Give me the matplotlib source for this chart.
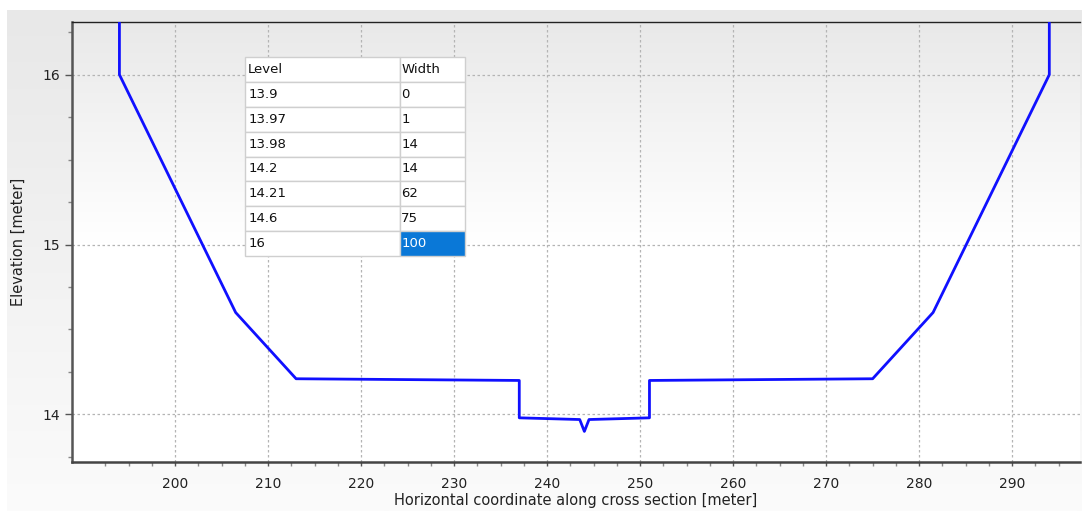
import numpy as np
import matplotlib.pyplot as plt
from matplotlib.colors import LinearSegmentedColormap
from matplotlib.ticker import FixedLocator, MultipleLocator

# Cross-section definition: level / width pairs
LEVELS = [13.9, 13.97, 13.98, 14.2, 14.21, 14.6, 16]
WIDTHS = [0, 1, 14, 14, 62, 75, 100]
LEVEL_LABELS = ["13.9", "13.97", "13.98", "14.2", "14.21", "14.6", "16"]
CENTER = 244.0
TOP = 17.0  # banks continue vertically above the last level

# Build the profile from the left bank, down to the bottom, up the right bank
left_x = [CENTER - w / 2 for w in WIDTHS[::-1]]
left_y = LEVELS[::-1]
right_x = [CENTER + w / 2 for w in WIDTHS]
right_y = LEVELS
xs = [left_x[0]] + left_x + right_x[1:] + [right_x[-1]]
ys = [TOP] + left_y + right_y[1:] + [TOP]

fig = plt.figure(figsize=(10.82, 5.11), dpi=100)
fig.patch.set_facecolor("white")

# grey panel behind the chart
grad = np.linspace(0, 1, 256).reshape(-1, 1)
bg = fig.add_axes([7 / 1082, 0, 1 - 7 / 1082, 1 - 10 / 511])
bg.imshow(grad, aspect="auto", extent=[0, 1, 0, 1], origin="upper",
          cmap=LinearSegmentedColormap.from_list("bg", ["#e8e8e8", "#fbfbfb"]))
bg.axis("off")

ax = fig.add_axes([72 / 1082, 1 - 462 / 511, (1080 - 72) / 1082, 440 / 511])
ax.set_facecolor("none")
ax.imshow(grad, aspect="auto", extent=[0, 1, 0, 1], origin="upper",
          cmap=LinearSegmentedColormap.from_list("plot", ["#e9e9e9", "#ffffff", "#ffffff"]),
          transform=ax.transAxes, zorder=0)

ax.plot(xs, ys, color="#1010ff", linewidth=2.0, zorder=3)

ax.set_xlim(188.9, 297.3)
ax.set_ylim(13.72, 16.31)

ax.xaxis.set_major_locator(FixedLocator(np.arange(200, 300, 10)))
ax.xaxis.set_minor_locator(FixedLocator(np.arange(192.5, 297, 2.5)))
ax.yaxis.set_major_locator(MultipleLocator(1))
ax.yaxis.set_minor_locator(MultipleLocator(0.25))
ax.grid(True, which="major", color="#b4b4b4", linestyle=(0, (2, 2)), linewidth=0.9, zorder=1)
ax.set_axisbelow(True)

ax.tick_params(axis="both", which="major", labelsize=10, colors="#555555",
               labelcolor="#222222", length=5, width=1)
ax.tick_params(axis="both", which="minor", colors="#888888", length=3, width=1)
ax.tick_params(axis="x", which="major", length=3, pad=8)

ax.spines["right"].set_visible(False)
ax.spines["top"].set_color("#222222")
ax.spines["top"].set_linewidth(1.0)
ax.spines["left"].set_color("#555555")
ax.spines["left"].set_linewidth(1.8)
ax.spines["bottom"].set_color("#444444")
ax.spines["bottom"].set_linewidth(1.8)

ax.set_xlabel("Horizontal coordinate along cross section [meter]", fontsize=10.5,
              color="#222222", labelpad=1)
ax.set_ylabel("Elevation [meter]", fontsize=10.5, color="#222222", labelpad=12)

# level / width table
cells = [[lab, str(w)] for lab, w in zip(LEVEL_LABELS, WIDTHS)]
tbl = ax.table(cellText=cells, colLabels=["Level", "Width"], cellLoc="left",
               colLoc="left", colWidths=[155 / 220, 65 / 220],
               bbox=[(245 - 72) / 1008, (462 - 256) / 440, 220 / 1008, 199 / 440])
tbl.auto_set_font_size(False)
tbl.set_fontsize(9.5)
tbl.set_zorder(5)
for (r, c), cell in tbl.get_celld().items():
    cell.set_edgecolor("#cfcfcf")
    cell.set_linewidth(1.0)
    cell.set_facecolor("white")
    cell.PAD = 0.02
    cell.get_text().set_color("#111111")
last = tbl[len(WIDTHS), 1]
last.set_facecolor("#0a78d7")
last.get_text().set_color("white")

fig.savefig("out.png", dpi=100)
